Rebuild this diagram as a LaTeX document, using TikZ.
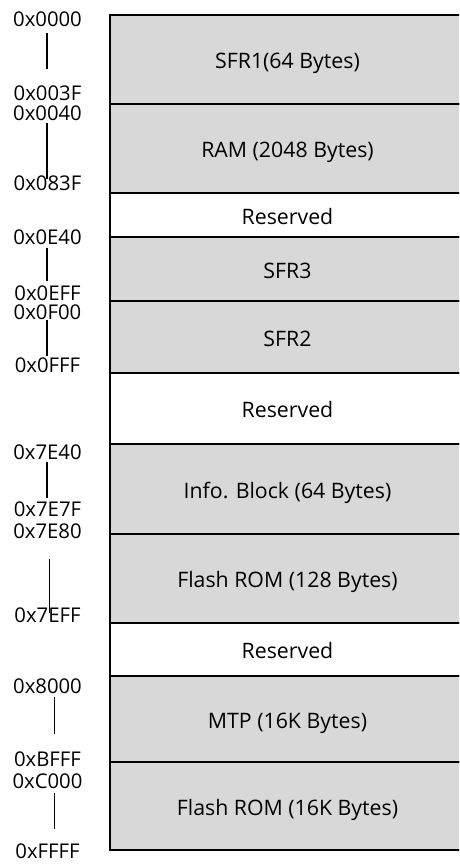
\documentclass[tikz,border=0pt]{standalone}
\usepackage{fontspec}
\setmainfont{Open Sans}
\definecolor{cellgray}{RGB}{216,216,216}
\begin{document}
\begin{tikzpicture}[x=1pt,y=-1pt,
  cell/.style={draw=black, line width=1.6pt, minimum width=355pt, inner sep=0pt,
    text height=18.4pt, text depth=0pt, font=\fontsize{21.3}{25}\selectfont},
  used/.style={cell, fill=cellgray},
  free/.style={cell, fill=white},
  addr/.style={anchor=base, inner sep=0pt, font=\fontsize{20.3}{24}\selectfont},
  rangeline/.style={draw=black, line width=1.3pt}]
\useasboundingbox (0,0) rectangle (459,864);
\begin{scope}
\clip (0,0) rectangle (459,864);
\node[used, minimum height=89pt] (sfr1) at (287.5,59.5) {SFR1(64 Bytes)};
\node[used, minimum height=89pt] (ram) at (287.5,148.5) {RAM (2048 Bytes)};
\node[free, minimum height=44pt] (res1) at (287.5,215) {Reserved};
\node[used, minimum height=64pt] (sfr3) at (287.5,269) {SFR3};
\node[used, minimum height=72pt] (sfr2) at (287.5,337) {SFR2};
\node[free, minimum height=71pt] (res2) at (287.5,408.5) {Reserved};
\node[used, minimum height=90pt] (info) at (287.5,489) {Info. Block (64 Bytes)};
\node[used, minimum height=89pt] (flash1) at (287.5,578.5) {Flash ROM (128 Bytes)};
\node[free, minimum height=53pt] (res3) at (287.5,649.5) {Reserved};
\node[used, minimum height=86pt] (mtp) at (287.5,719) {MTP (16K Bytes)};
\node[used, minimum height=88pt] (flash2) at (287.5,806) {Flash ROM (16K Bytes)};
\end{scope}
% address labels
\node[addr] (a0) at (47.5,26.7) {0x0000};
\node[addr] (a1) at (47.5,100.7) {0x003F};
\node[addr] (a2) at (47.5,121) {0x0040};
\node[addr] (a3) at (47.5,190.7) {0x083F};
\node[addr] (a4) at (47.5,244.3) {0x0E40};
\node[addr] (a5) at (47.5,300.4) {0x0EFF};
\node[addr] (a6) at (47.5,319.4) {0x0F00};
\node[addr] (a7) at (47.5,372.7) {0x0FFF};
\node[addr] (a8) at (47.5,459.3) {0x7E40};
\node[addr] (a9) at (47.5,516.7) {0x7E7F};
\node[addr] (a10) at (47.5,538.3) {0x7E80};
\node[addr] (a11) at (47.5,622.7) {0x7EFF};
\node[addr] (a12) at (47.5,693.3) {0x8000};
\node[addr] (a13) at (47.5,766) {0xBFFF};
\node[addr] (a14) at (47.5,788.3) {0xC000};
\node[addr] (a15) at (47.5,858.3) {0xFFFF};
% range lines
\coordinate (r1s) at (47,33);  \coordinate (r1e) at (47,69);
\coordinate (r2s) at (47,123); \coordinate (r2e) at (47,179);
\coordinate (r3s) at (47,248); \coordinate (r3e) at (47,281);
\coordinate (r4s) at (47,320); \coordinate (r4e) at (47,356);
\coordinate (r5s) at (47,462); \coordinate (r5e) at (47,498);
\coordinate (r6s) at (49.3,559); \coordinate (r6e) at (49.3,613);
\coordinate (r7s) at (54.3,697); \coordinate (r7e) at (54.3,734);
\coordinate (r8s) at (54.3,793); \coordinate (r8e) at (54.3,829);
\draw[rangeline] (r1s) -- (r1e);
\draw[rangeline] (r2s) -- (r2e);
\draw[rangeline] (r3s) -- (r3e);
\draw[rangeline] (r4s) -- (r4e);
\draw[rangeline] (r5s) -- (r5e);
\draw[rangeline, line width=0.8pt] (r6s) -- (r6e);
\draw[rangeline] (r7s) -- (r7e);
\draw[rangeline] (r8s) -- (r8e);
\end{tikzpicture}
\end{document}
